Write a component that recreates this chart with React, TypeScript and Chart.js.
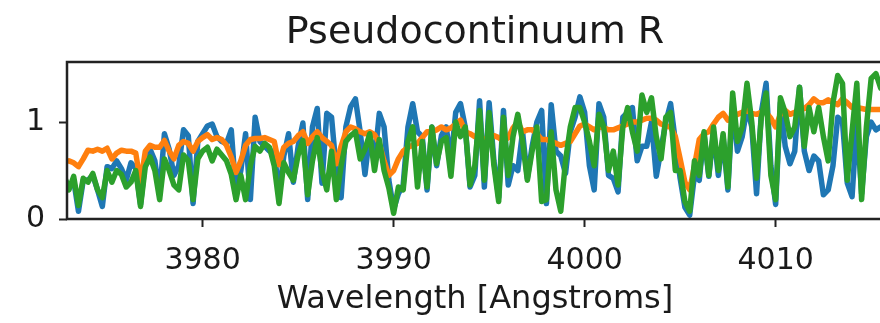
import React, { useEffect, useRef } from "react";
import { Chart, registerables } from "chart.js";

Chart.register(...registerables);

const TITLE = "Pseudocontinuum R";
const X_LABEL = "Wavelength [Angstroms]";
const X_TICKS = [3980, 3990, 4000, 4010];
const Y_TICKS = [0, 1];

const WAVELENGTH = [
  3972.75,
  3973, 3973.25, 3973.5, 3973.75, 3974, 3974.25, 3974.5, 3974.75,
  3975, 3975.25, 3975.5, 3975.75, 3976, 3976.25, 3976.5, 3976.75,
  3977, 3977.25, 3977.5, 3977.75, 3978, 3978.25, 3978.5, 3978.75,
  3979, 3979.25, 3979.5, 3979.75, 3980, 3980.25, 3980.5, 3980.75,
  3981, 3981.25, 3981.5, 3981.75, 3982, 3982.25, 3982.5, 3982.75,
  3983, 3983.25, 3983.5, 3983.75, 3984, 3984.25, 3984.5, 3984.75,
  3985, 3985.25, 3985.5, 3985.75, 3986, 3986.25, 3986.5, 3986.75,
  3987, 3987.25, 3987.5, 3987.75, 3988, 3988.25, 3988.5, 3988.75,
  3989, 3989.25, 3989.5, 3989.75, 3990, 3990.25, 3990.5, 3990.75,
  3991, 3991.25, 3991.5, 3991.75, 3992, 3992.25, 3992.5, 3992.75,
  3993, 3993.25, 3993.5, 3993.75, 3994, 3994.25, 3994.5, 3994.75,
  3995, 3995.25, 3995.5, 3995.75, 3996, 3996.25, 3996.5, 3996.75,
  3997, 3997.25, 3997.5, 3997.75, 3998, 3998.25, 3998.5, 3998.75,
  3999, 3999.25, 3999.5, 3999.75, 4000, 4000.25, 4000.5, 4000.75,
  4001, 4001.25, 4001.5, 4001.75, 4002, 4002.25, 4002.5, 4002.75,
  4003, 4003.25, 4003.5, 4003.75, 4004, 4004.25, 4004.5, 4004.75,
  4005, 4005.25, 4005.5, 4005.75, 4006, 4006.25, 4006.5, 4006.75,
  4007, 4007.25, 4007.5, 4007.75, 4008, 4008.25, 4008.5, 4008.75,
  4009, 4009.25, 4009.5, 4009.75, 4010, 4010.25, 4010.5, 4010.75,
  4011, 4011.25, 4011.5, 4011.75, 4012, 4012.25, 4012.5, 4012.75,
  4013, 4013.25, 4013.5, 4013.75, 4014, 4014.25, 4014.5, 4014.75,
  4015, 4015.25, 4015.5,
];

const FLUX_BLUE = [
  0.42, 0.33, 0.40, 0.08, 0.40, 0.40, 0.45, 0.30, 0.13, 0.54, 0.52, 0.60, 0.52, 0.40, 0.58, 0.52, 0.15, 0.60, 0.72, 0.60, 0.25, 0.88,
  0.72, 0.45, 0.55, 0.92, 0.86, 0.16, 0.80, 0.88, 0.96, 0.98, 0.85, 0.80, 0.78, 0.92, 0.25, 0.50, 0.88, 0.20, 1.05, 0.80, 0.75, 0.70,
  0.70, 0.25, 0.65, 0.88, 0.38, 0.75, 0.99, 0.20, 0.95, 1.14, 0.37, 1.09, 1.05, 0.50, 0.22, 0.95, 1.16, 1.24, 0.90, 0.46, 0.88,
  0.60, 1.09, 0.95, 0.40, 0.10, 0.26, 0.35, 0.95, 1.19, 0.90, 0.85, 0.30, 0.95, 0.55, 0.86, 0.95, 0.60, 1.10, 1.19, 0.95, 0.33,
  0.45, 1.22, 0.33, 1.20, 0.60, 0.22, 1.12, 0.35, 0.55, 0.50, 0.90, 0.42, 0.75, 1.00, 1.12, 0.16, 1.18, 0.70, 0.65, 0.47, 0.90, 1.05,
  1.26, 1.10, 0.55, 0.30, 1.19, 1.05, 0.45, 0.42, 0.28, 1.05, 1.10, 1.15, 0.60, 0.75, 0.75, 1.00, 0.44, 0.72, 1.00, 1.19, 0.80,
  0.42, 0.12, 0.04, 0.45, 0.40, 0.88, 0.44, 0.90, 0.45, 0.85, 0.30, 1.20, 0.70, 0.85, 1.15, 0.95, 0.26, 1.10, 1.40, 0.55, 0.15,
  1.20, 0.75, 0.57, 0.70, 1.36, 0.70, 0.50, 0.65, 0.60, 0.25, 0.30, 0.55, 1.05, 1.00, 0.37, 0.23, 1.00, 0.26, 0.85, 1.00, 0.92, 0.95,
];

const FLUX_ORANGE = [
  0.59, 0.60, 0.58, 0.54, 0.62, 0.71, 0.70, 0.72, 0.70, 0.73, 0.62, 0.68, 0.71, 0.70, 0.70, 0.68, 0.37, 0.70, 0.76, 0.74, 0.74, 0.81,
  0.70, 0.62, 0.76, 0.80, 0.78, 0.70, 0.80, 0.84, 0.87, 0.82, 0.84, 0.82, 0.76, 0.64, 0.48, 0.60, 0.76, 0.82, 0.83, 0.83, 0.84, 0.82,
  0.80, 0.56, 0.74, 0.78, 0.80, 0.86, 0.90, 0.78, 0.85, 0.90, 0.84, 0.80, 0.76, 0.57, 0.75, 0.90, 0.95, 0.93, 0.90, 0.88, 0.90,
  0.87, 0.78, 0.60, 0.45, 0.50, 0.62, 0.70, 0.74, 0.76, 0.78, 0.84, 0.90, 0.90, 0.92, 0.95, 0.92, 0.94, 0.98, 1.02, 0.90, 0.88,
  0.85, 0.84, 0.82, 0.85, 0.86, 0.84, 0.80, 0.84, 0.94, 1.00, 0.90, 0.92, 0.92, 0.88, 0.82, 0.82, 0.80, 0.78, 0.76, 0.78, 0.80, 0.88,
  0.96, 0.98, 0.95, 0.92, 0.95, 0.94, 0.92, 0.92, 0.94, 0.96, 0.98, 1.00, 1.00, 1.02, 1.04, 1.04, 1.02, 0.98, 0.96, 0.95, 0.85,
  0.62, 0.38, 0.30, 0.55, 0.82, 0.88, 0.90, 0.98, 1.05, 1.09, 1.02, 1.05, 1.08, 1.10, 1.12, 1.09, 1.08, 1.10, 1.10, 1.04, 0.95,
  1.08, 1.12, 1.08, 1.10, 1.12, 1.14, 1.18, 1.24, 1.20, 1.20, 1.23, 1.20, 1.18, 1.24, 1.20, 1.15, 1.15, 1.14, 1.13, 1.13, 1.13, 1.13,
];

const FLUX_GREEN = [
  0.45, 0.30, 0.44, 0.14, 0.42, 0.38, 0.47, 0.30, 0.22, 0.50, 0.38, 0.50, 0.46, 0.33, 0.38, 0.50, 0.13, 0.54, 0.64, 0.50, 0.20, 0.62,
  0.50, 0.35, 0.30, 0.66, 0.60, 0.20, 0.62, 0.70, 0.74, 0.60, 0.72, 0.66, 0.60, 0.46, 0.20, 0.45, 0.20, 0.55, 0.75, 0.70, 0.78, 0.74,
  0.55, 0.16, 0.58, 0.48, 0.40, 0.66, 0.81, 0.25, 0.60, 0.84, 0.50, 0.30, 0.70, 0.20, 0.55, 0.80, 0.86, 0.90, 0.62, 0.72, 0.88,
  0.50, 0.82, 0.50, 0.32, 0.06, 0.33, 0.30, 0.80, 0.95, 0.33, 0.80, 0.33, 0.95, 0.57, 0.80, 0.84, 0.44, 1.00, 0.85, 0.95, 0.35,
  0.55, 1.12, 0.40, 1.10, 0.55, 0.18, 1.05, 0.45, 0.85, 1.08, 0.80, 0.40, 0.70, 0.95, 0.18, 0.20, 0.90, 0.30, 0.08, 0.60, 0.95, 1.15,
  1.15, 1.00, 0.80, 0.55, 1.08, 0.95, 0.50, 0.70, 0.35, 0.95, 1.15, 0.90, 0.70, 1.28, 1.10, 1.25, 0.85, 0.62, 1.05, 1.10, 0.50,
  0.50, 0.18, 0.08, 0.60, 0.45, 0.90, 0.45, 0.95, 0.50, 0.88, 0.33, 1.30, 0.80, 0.95, 1.40, 1.00, 0.42, 1.05, 1.30, 0.45, 0.20,
  1.25, 1.10, 0.85, 0.95, 1.36, 0.75, 1.15, 0.90, 1.15, 0.85, 0.60, 1.20, 1.48, 1.40, 0.40, 0.90, 1.40, 0.20, 0.95, 1.45, 1.50, 1.35,
];

const FONT = "'DejaVu Sans', sans-serif";
const INK = "#1a1a1a";

const framePlugin = {
  id: "frame",
  afterDraw(chart: any) {
    const { ctx, chartArea } = chart;
    const { left, top, right, bottom } = chartArea;
    ctx.save();
    ctx.strokeStyle = "#222";
    ctx.lineWidth = 2.5;
    ctx.beginPath();
    ctx.moveTo(right, top);
    ctx.lineTo(left, top);
    ctx.lineTo(left, bottom);
    ctx.lineTo(right, bottom);
    ctx.stroke();
    ctx.restore();
  },
};

function series(values: number[]) {
  return WAVELENGTH.map((x, i) => ({ x, y: values[i] }));
}

export default function App() {
  const canvasRef = useRef<HTMLCanvasElement>(null);

  useEffect(() => {
    const canvas = canvasRef.current;
    if (!canvas) return;
    const lineOpts = {
      borderWidth: 5.5,
      pointRadius: 0,
      tension: 0,
      borderJoinStyle: "round" as const,
      borderCapStyle: "round" as const,
      fill: false,
      clip: 0,
    };
    const chart = new Chart(canvas, {
      type: "line",
      data: {
        datasets: [
          { ...lineOpts, label: "blue", data: series(FLUX_BLUE), borderColor: "#1f77b4", order: 2 },
          { ...lineOpts, label: "orange", data: series(FLUX_ORANGE), borderColor: "#ff7f0e", order: 1 },
          { ...lineOpts, label: "green", data: series(FLUX_GREEN), borderColor: "#2ca02c", order: 0 },
        ],
      },
      plugins: [framePlugin],
      options: {
        responsive: false,
        animation: false,
        devicePixelRatio: 1,
        layout: { padding: { left: 0, right: 17, top: 0, bottom: 0 } },
        plugins: {
          legend: { display: false },
          tooltip: { enabled: false },
          title: {
            display: true,
            text: TITLE,
            fullSize: false,
            color: INK,
            font: { family: FONT, size: 38, weight: "normal" },
            padding: { top: 10, bottom: 6.4 },
          },
        },
        scales: {
          x: {
            type: "linear",
            min: 3972.9,
            max: 4015.62,
            afterBuildTicks: (s: any) => {
              s.ticks = X_TICKS.map((v) => ({ value: v }));
            },
            afterFit: (s: any) => {
              s.height = 104;
            },
            ticks: {
              color: INK,
              font: { family: FONT, size: 30 },
              padding: 16,
              maxRotation: 0,
              autoSkip: false,
              callback: (v: any) => String(v),
            },
            grid: { drawOnChartArea: false, tickLength: 8, tickWidth: 2, tickColor: "#222" },
            border: { display: false },
            title: {
              display: true,
              text: X_LABEL,
              color: INK,
              font: { family: FONT, size: 32 },
              padding: { top: 0, bottom: 4 },
            },
          },
          y: {
            type: "linear",
            min: 0,
            max: 1.62,
            afterBuildTicks: (s: any) => {
              s.ticks = Y_TICKS.map((v) => ({ value: v }));
            },
            afterFit: (s: any) => {
              s.width = 67;
            },
            ticks: {
              color: INK,
              font: { family: FONT, size: 30 },
              padding: 14,
              autoSkip: false,
              callback: (v: any) => String(v),
            },
            grid: { drawOnChartArea: false, tickLength: 8, tickWidth: 2, tickColor: "#222" },
            border: { display: false },
          },
        },
      } as any,
    });
    return () => chart.destroy();
  }, []);

  return (
    <div
      style={{
        position: "fixed",
        left: 0,
        top: 0,
        width: 900,
        height: 323,
        overflow: "hidden",
        background: "#ffffff",
      }}
    >
      <canvas ref={canvasRef} width={900} height={323} style={{ display: "block", width: 900, height: 323 }} />
    </div>
  );
}
